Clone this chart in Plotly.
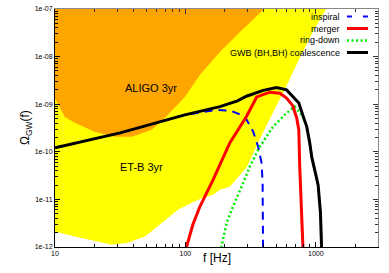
import plotly.graph_objects as go

# ---------------- data ----------------
x_range = [10, 3000]
y_range = [1e-12, 1e-7]
x_tickvals = [10, 100, 1000]
x_ticktext = ["10", "100", "1000"]
y_tickvals = [1e-12, 1e-11, 1e-10, 1e-9, 1e-8, 1e-7]
y_ticktext = ["1e-12", "1e-11", "1e-10", "1e-09", "1e-08", "1e-07"]

# ALIGO 3yr sensitivity (lower edge of orange region)
aligo_f = [9.5, 10, 11.9, 14.2, 20.3, 28.8, 38.9, 55.3, 69.7, 87.7, 99.1, 129, 184, 262, 406, 430]
aligo_om = [2.0e-9, 1.3e-9, 5.4e-10, 4.1e-10, 2.6e-10, 2.06e-10, 2.06e-10, 2.9e-10, 5.2e-10,
            9.7e-10, 1.42e-9, 4.1e-9, 1.25e-8, 3.3e-8, 1.03e-7, 1.3e-7]

# ET-B 3yr sensitivity (lower edge of yellow region)
et_f = [9, 10, 14.2, 20.3, 27.4, 36.2, 49.0, 66.1, 87.7, 112, 136, 163, 184, 219, 296, 393,
        530, 600, 753, 948, 1208, 1280]
et_om = [2.4e-12, 2.12e-12, 1.66e-12, 1.31e-12, 1.11e-12, 1.23e-12, 1.66e-12, 3.23e-12, 6.05e-12,
         8.5e-12, 1.08e-11, 1.25e-11, 1.59e-11, 1.84e-11, 4.8e-11, 2.5e-10, 1.23e-9, 2.54e-9,
         9.4e-9, 3.3e-8, 1.04e-7, 1.4e-7]

# inspiral
insp_f = [10, 31.6, 99.1, 173, 226, 286, 331, 361, 384, 391, 394, 394]
insp_om = [1.21e-10, 2.5e-10, 5.96e-10, 7.6e-10, 7.2e-10, 5.5e-10, 2.66e-10, 1.29e-10, 5.8e-11,
           2.23e-11, 1.0e-12, 5e-13]

# merger
merg_f = [101, 102, 114, 129, 163, 219, 294, 352, 445, 530, 597, 667, 714, 741, 753, 776, 800, 805]
merg_om = [5e-13, 1.0e-12, 2.93e-12, 7.0e-12, 2.58e-11, 1.54e-10, 5.5e-10, 1.42e-9, 1.79e-9, 1.70e-9,
           1.34e-9, 9.2e-10, 5.15e-10, 2.89e-10, 4.9e-11, 9.8e-12, 1.01e-12, 5e-13]

# ring-down
ring_f = [187, 189, 207, 232, 270, 312, 372, 471, 597, 690, 794, 853, 899, 931, 1042, 1086, 1107, 1114]
ring_om = [5e-13, 1.0e-12, 3.18e-12, 7.1e-12, 1.87e-11, 4.9e-11, 1.29e-10, 3.39e-10, 6.5e-10, 8.9e-10,
           5.6e-10, 3.3e-10, 1.52e-10, 7.7e-11, 2.0e-11, 5.2e-12, 1.0e-12, 5e-13]

# total GWB (BH,BH) coalescence
gwb_f = [10, 31.6, 99.1, 184, 251, 294, 395, 500, 597, 690, 741, 794, 853, 899, 931, 1042, 1086, 1107, 1114]
gwb_om = [1.21e-10, 2.5e-10, 5.96e-10, 8.9e-10, 1.17e-9, 1.47e-9, 1.95e-9, 2.23e-9, 2.0e-9, 1.34e-9,
          1.06e-9, 5.96e-10, 3.34e-10, 1.54e-10, 7.83e-11, 2.02e-11, 5.24e-12, 1.01e-12, 5e-13]

legend_labels = ["inspiral", "merger", "ring-down", "GWB (BH,BH) coalescence"]

# ---------------- layout geometry ----------------
W, H = 389, 273
L, R, T, B = 55, 378, 9, 247


def px(xp):
    return (xp - L) / (R - L)


def py(yp):
    return (B - yp) / (B - T)


fig = go.Figure()

# ET-B region (yellow)
fig.add_trace(go.Scatter(x=et_f + [et_f[0]], y=et_om + [et_om[-1]], fill="toself",
                         fillcolor="#FFFF00", line=dict(width=0), mode="lines",
                         hoverinfo="skip", showlegend=False))
# ALIGO region (orange)
fig.add_trace(go.Scatter(x=aligo_f + [aligo_f[0]], y=aligo_om + [aligo_om[-1]], fill="toself",
                         fillcolor="#FFA500", line=dict(width=0), mode="lines",
                         hoverinfo="skip", showlegend=False))

fig.add_trace(go.Scatter(x=insp_f, y=insp_om, mode="lines",
                         line=dict(color="#0000FF", width=2, dash="8px,6px"), showlegend=False))
fig.add_trace(go.Scatter(x=ring_f, y=ring_om, mode="lines",
                         line=dict(color="#00EE00", width=2.5, dash="2px,2.5px"), showlegend=False))
fig.add_trace(go.Scatter(x=merg_f, y=merg_om, mode="lines",
                         line=dict(color="#FF0000", width=3), showlegend=False))
fig.add_trace(go.Scatter(x=gwb_f, y=gwb_om, mode="lines",
                         line=dict(color="#000000", width=3), showlegend=False))

minor_x = [m * d for d in (10, 100, 1000) for m in range(2, 10) if m * d < 3000]
minor_y = [m * d for d in (1e-12, 1e-11, 1e-10, 1e-9, 1e-8) for m in range(2, 10)]

font = "Liberation Sans, Arial, sans-serif"
tickfont = dict(family=font, size=7, color="black")

fig.update_layout(
    width=W, height=H, autosize=False,
    margin=dict(l=L, r=W - R, t=T, b=H - B, autoexpand=False),
    paper_bgcolor="white", plot_bgcolor="white",
    xaxis=dict(type="log", range=[1, 3.4771], showgrid=False, zeroline=False,
               showline=True, linecolor="black", linewidth=1, automargin=False,
               ticks="inside", ticklen=5, tickcolor="black",
               tickmode="array", tickvals=x_tickvals, ticktext=x_ticktext, tickfont=tickfont,
               minor=dict(ticks="inside", ticklen=3, tickcolor="black", tickmode="array",
                          tickvals=minor_x, showgrid=False)),
    yaxis=dict(type="log", range=[-12, -7], showgrid=False, zeroline=False,
               showline=True, linecolor="black", linewidth=1, automargin=False,
               ticks="inside", ticklen=5, tickcolor="black",
               tickmode="array", tickvals=y_tickvals, ticktext=y_ticktext, tickfont=tickfont,
               minor=dict(ticks="inside", ticklen=3, tickcolor="black", tickmode="array",
                          tickvals=minor_y, showgrid=False)),
    xaxis2=dict(type="log", range=[1, 3.4771], overlaying="x", side="top", anchor="y",
                showgrid=False, zeroline=False, showline=True, linecolor="#888888",
                ticks="inside", ticklen=5, tickcolor="#333333", showticklabels=False,
                tickmode="array", tickvals=x_tickvals, automargin=False,
                minor=dict(ticks="inside", ticklen=3, tickcolor="#333333", tickmode="array",
                           tickvals=minor_x, showgrid=False)),
    yaxis2=dict(type="log", range=[-12, -7], overlaying="y", side="right", anchor="x",
                showgrid=False, zeroline=False, showline=True, linecolor="#888888",
                ticks="inside", ticklen=5, tickcolor="#333333", showticklabels=False,
                tickmode="array", tickvals=y_tickvals, automargin=False,
                minor=dict(ticks="inside", ticklen=3, tickcolor="#333333", tickmode="array",
                           tickvals=minor_y, showgrid=False)),
)

# invisible helper trace so the mirror axes get drawn
fig.add_trace(go.Scatter(x=[x_range[0]], y=[y_range[0]], xaxis="x2", yaxis="y2", mode="markers",
                         marker=dict(opacity=0), hoverinfo="skip", showlegend=False))

ann = []
ann.append(dict(text="ALIGO 3yr", x=px(123), y=py(80), xref="paper", yref="paper",
                showarrow=False, font=dict(family=font, size=11, color="black")))
ann.append(dict(text="ET-B 3yr", x=px(118), y=py(166.5), xref="paper", yref="paper",
                showarrow=False, font=dict(family=font, size=11, color="black")))
ann.append(dict(text="f [Hz]", x=px(216.5), y=py(266.5), xref="paper", yref="paper",
                showarrow=False, font=dict(family=font, size=12, color="black")))
ann.append(dict(text="Ω<sub>GW</sub>(f)", x=px(16), y=py(128), xref="paper", yref="paper",
                showarrow=False, textangle=-90, font=dict(family=font, size=12, color="black")))

legend_colors = ["#0000FF", "#FF0000", "#00EE00", "#000000"]
legend_dash = ["5px,11px", "solid", "2px,2.5px", "solid"]
legend_width = [2, 3, 2.5, 3]
shapes = []
for i, lab in enumerate(legend_labels):
    yy = 16.5 + 12 * i
    ann.append(dict(text=lab, x=px(342), y=py(yy), xref="paper", yref="paper",
                    xanchor="right", yanchor="middle", showarrow=False,
                    font=dict(family=font, size=9, color="black")))
    shapes.append(dict(type="line", xref="paper", yref="paper", x0=px(347), x1=px(368),
                       y0=py(yy), y1=py(yy),
                       line=dict(color=legend_colors[i], width=legend_width[i], dash=legend_dash[i])))

fig.update_layout(annotations=ann, shapes=shapes)

fig.write_html("out.html", config={"displayModeBar": False},
               post_script="document.body.style.margin='0';document.body.style.overflow='hidden';")
